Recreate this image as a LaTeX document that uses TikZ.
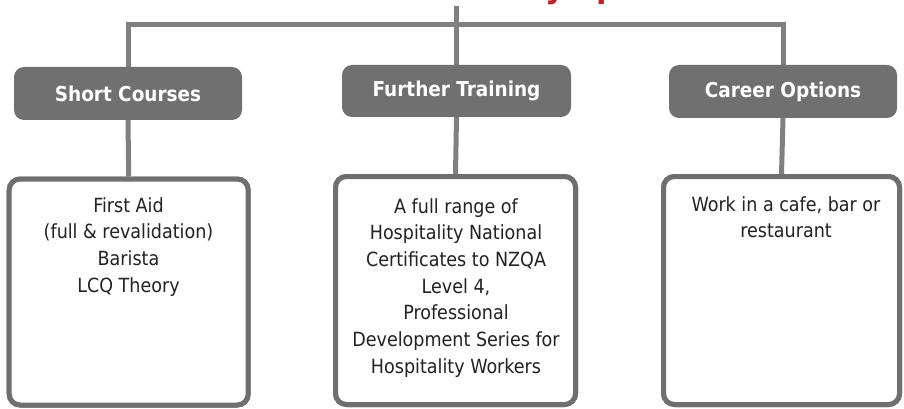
\documentclass[tikz,border=0pt]{standalone}
\usepackage{fontspec}
\setmainfont{DejaVu Sans Condensed}
\begin{document}
\begin{tikzpicture}[x=1pt,y=-1pt,
  conn/.style={draw=conncol,line width=5pt},
  hdr/.style={fill=hdrfill,rounded corners=10pt,text=white,inner sep=0pt,
    font=\fontsize{20.5}{24}\selectfont\bfseries},
  cbox/.style={draw=boxcol,line width=5pt,rounded corners=11pt,fill=white,inner sep=0pt},
  body/.style={align=center,inner sep=0pt,anchor=north,text=bodycol,
    font=\fontsize{19.5}{26.7}\selectfont},
  ttl/.style={text=titlecol,inner sep=0pt,anchor=south,
    font=\fontsize{34}{40}\selectfont\bfseries}]
\definecolor{conncol}{HTML}{808083}
\definecolor{hdrfill}{HTML}{707070}
\definecolor{boxcol}{HTML}{6F6F6F}
\definecolor{bodycol}{HTML}{222222}
\definecolor{titlecol}{HTML}{C4212F}
\useasboundingbox (0,0) rectangle (904,409);
\begin{scope}
\clip (0,0) rectangle (904,409);
% title (only its descenders show)
\node[ttl] (title) at (555,5) {\llap{Pathwa}y\rlap{ options}};
\coordinate (top) at (456.5,6);
% headers
\node[hdr,minimum width=228pt,minimum height=53pt] (h1) at (128,93.5) {Short Courses};
\node[hdr,minimum width=229pt,minimum height=52pt] (h2) at (456.5,91) {Further Training};
\node[hdr,minimum width=228pt,minimum height=53pt] (h3) at (783,91.5) {Career Options};
% content boxes
\node[cbox,minimum width=239pt,minimum height=226pt] (b1) at (128.7,292) {};
\node[cbox,minimum width=240pt,minimum height=228pt] (b2) at (455.5,290.5) {};
\node[cbox,minimum width=236pt,minimum height=228pt] (b3) at (781.5,290.5) {};
% connectors
\coordinate (j1) at (h1.north |- 0,24.5);
\coordinate (j3) at (h3.north |- 0,24.5);
\draw[conn] (top) -- (h2.north);
\draw[conn] (h1.north) -- (j1) -- (j3) -- (h3.north);
\draw[conn] (h1.south) -- (b1.north);
\draw[conn] (h2.south) -- (b2.north);
\draw[conn] (h3.south) -- (b3.north);
% redraw boxes over connector ends
\node[cbox,minimum width=239pt,minimum height=226pt] at (b1) {};
\node[cbox,minimum width=240pt,minimum height=228pt] at (b2) {};
\node[cbox,minimum width=236pt,minimum height=228pt] at (b3) {};
% texts
\node[body] (t1) at (128.5,197) {First Aid\\(full \& revalidation)\\Barista\\LCQ Theory};
\node[body] (t2) at (456,198) {A full range of\\Hospitality National\\Certificates to NZQA\\Level 4,\\Professional\\Development Series for\\Hospitality Workers};
\node[body] (t3) at (786,196) {Work in a cafe, bar or\\restaurant};
\end{scope}
\end{tikzpicture}
\end{document}
